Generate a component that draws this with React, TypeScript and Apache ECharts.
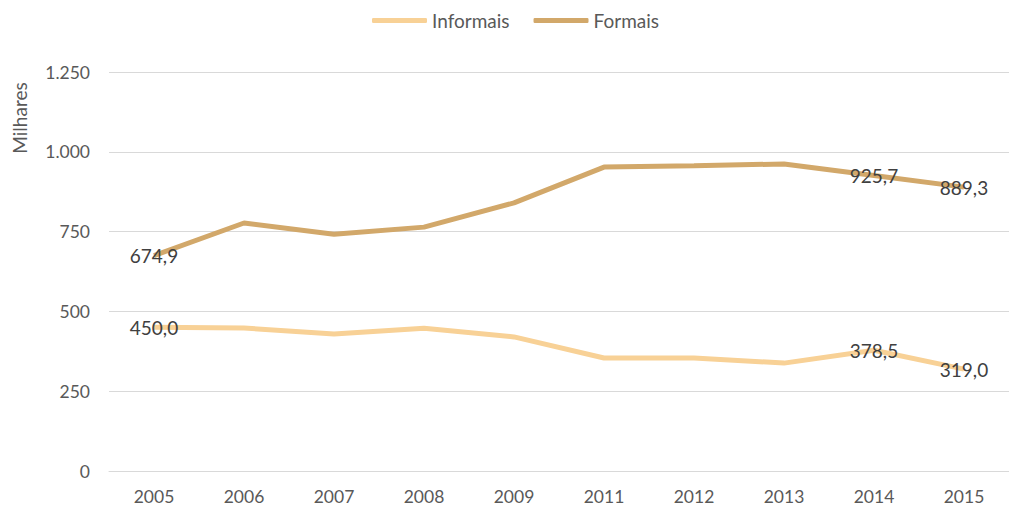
import React, { useEffect, useRef } from "react";
import * as echarts from "echarts";

const categories = ["2005", "2006", "2007", "2008", "2009", "2011", "2012", "2013", "2014", "2015"];
const informais = [450.0, 448, 429, 447, 420, 354, 354, 338, 378.5, 319.0];
const formais = [674.9, 777, 742, 764, 840, 952, 956, 962, 925.7, 889.3];
const labeledYears = ["2005", "2014", "2015"];
const yTicks = { min: 0, max: 1250, interval: 250 };

const fmtDec = (v: number) => v.toFixed(1).replace(".", ",");
const fmtThousand = (v: number) => String(v).replace(/\B(?=(\d{3})+(?!\d))/g, ".");

const FONT = "Lato";

function toData(values: number[]) {
  return values.map((v, i) => ({
    value: v,
    label: { show: labeledYears.includes(categories[i]) },
  }));
}

export default function App() {
  const ref = useRef<HTMLDivElement>(null);
  useEffect(() => {
    if (!ref.current) return;
    const chart = echarts.init(ref.current, null, { renderer: "svg" });
    const labelCfg = {
      show: false,
      position: "inside",
      formatter: (p: any) => fmtDec(p.value),
      color: "#404040",
      fontSize: 19,
      fontFamily: FONT,
    };
    chart.setOption({
      animation: false,
      textStyle: { fontFamily: FONT },
      legend: {
        top: 6,
        left: 367,
        icon: "roundRect",
        itemWidth: 55,
        itemHeight: 5,
        itemGap: 24,
        textStyle: { fontSize: 19, color: "#595959", fontFamily: FONT },
        data: ["Informais", "Formais"],
      },
      grid: { left: 109, right: -9, top: 72, bottom: 36, containLabel: false },
      xAxis: {
        type: "category",
        data: categories,
        boundaryGap: true,
        axisLine: { lineStyle: { color: "#d9d9d9" } },
        axisTick: { show: false },
        axisLabel: { color: "#595959", fontSize: 17.5, fontFamily: FONT, margin: 16 },
      },
      yAxis: {
        type: "value",
        min: yTicks.min,
        max: yTicks.max,
        interval: yTicks.interval,
        axisLine: { show: false },
        axisTick: { show: false },
        splitLine: { lineStyle: { color: "#d9d9d9", width: 1 } },
        axisLabel: {
          color: "#595959",
          fontSize: 17.5,
          fontFamily: FONT,
          margin: 19,
          formatter: (v: number) => fmtThousand(v),
        },
      },
      graphic: [
        {
          type: "text",
          x: 10,
          y: 118,
          rotation: Math.PI / 2,
          style: {
            text: "Milhares",
            fill: "#595959",
            fontSize: 19,
            fontFamily: FONT,
            align: "center",
            verticalAlign: "top",
          },
        },
      ],
      series: [
        {
          name: "Informais",
          type: "line",
          data: toData(informais),
          symbol: "circle",
          symbolSize: 0,
          showSymbol: true,
          lineStyle: { color: "#F8D196", width: 5 },
          itemStyle: { color: "#F8D196" },
          label: labelCfg,
        },
        {
          name: "Formais",
          type: "line",
          data: toData(formais),
          symbol: "circle",
          symbolSize: 0,
          showSymbol: true,
          lineStyle: { color: "#D2A86A", width: 5 },
          itemStyle: { color: "#D2A86A" },
          label: labelCfg,
        },
      ],
    });
    return () => chart.dispose();
  }, []);
  return (
    <div
      ref={ref}
      style={{ position: "absolute", top: 0, left: 0, width: 1009, height: 507 }}
    />
  );
}
